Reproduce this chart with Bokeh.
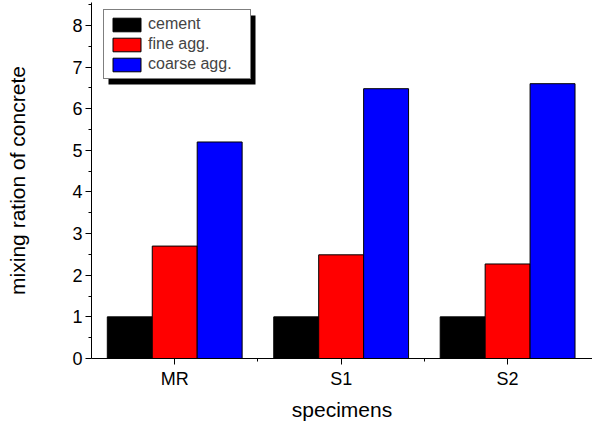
from bokeh.plotting import figure
from bokeh.models import (ColumnDataSource, FixedTicker, Range1d, Legend, LegendItem,
                          BoxAnnotation)
from bokeh.embed import file_html
from bokeh.resources import INLINE

categories = ["MR", "S1", "S2"]
cement = [1.0, 1.0, 1.0]
fine_agg = [2.7, 2.49, 2.27]
coarse_agg = [5.2, 6.48, 6.6]
series_names = ["cement", "fine agg.", "coarse agg."]
colors = ["black", "#ff0000", "#0000ff"]

FONT = "Liberation Sans"
xs = [1, 2, 3]
bw = 0.27

p = figure(width=592, height=423, output_backend="svg", toolbar_location=None,
           x_range=Range1d(0.5, 3.51), y_range=Range1d(0, 8.55),
           min_border_left=91, min_border_right=0, min_border_top=2, min_border_bottom=65)
p.outline_line_color = None
p.grid.visible = False
p.background_fill_color = "white"
p.border_fill_color = "white"

renderers = []
for i, (vals, c) in enumerate(zip([cement, fine_agg, coarse_agg], colors)):
    src = ColumnDataSource(dict(x=[x + (i - 1) * bw for x in xs], top=vals))
    r = p.vbar(x="x", top="top", width=bw, bottom=0, source=src,
               fill_color=c, line_color="black", line_width=1)
    renderers.append(r)

# axes
p.xaxis.ticker = FixedTicker(ticks=xs, minor_ticks=[1.5, 2.5])
p.xaxis.major_label_overrides = {x: c for x, c in zip(xs, categories)}
p.yaxis.ticker = FixedTicker(ticks=list(range(0, 9)), minor_ticks=[i + 0.5 for i in range(0, 9)])
for ax in (p.xaxis[0], p.yaxis[0]):
    ax.axis_line_color = "black"
    ax.axis_line_width = 1
    ax.major_tick_line_color = "black"
    ax.minor_tick_line_color = "black"
    ax.major_tick_out = 6
    ax.major_tick_in = 0
    ax.minor_tick_out = 3
    ax.minor_tick_in = 0
    ax.major_label_text_font = FONT
    ax.major_label_text_font_size = "18px"
    ax.major_label_text_color = "black"
    ax.axis_label_text_font = FONT
    ax.axis_label_text_font_size = "21px"
    ax.axis_label_text_font_style = "normal"
    ax.axis_label_text_color = "black"
p.xaxis.axis_label = "specimens"
p.yaxis.axis_label = "mixing ration of concrete"
p.xaxis.major_label_standoff = 4
p.xaxis.axis_label_standoff = 6
p.yaxis.major_label_standoff = 3
p.yaxis.axis_label_standoff = 40

# legend shadow (screen units relative to the frame's bottom-left)
shadow = BoxAnnotation(left=17, right=164, top=343, bottom=274,
                       left_units="screen", right_units="screen",
                       top_units="screen", bottom_units="screen",
                       fill_color="black", fill_alpha=1.0, line_color=None, level="overlay")
p.add_layout(shadow)

legend = Legend(items=[LegendItem(label=n, renderers=[r]) for n, r in zip(series_names, renderers)],
                location=(12, 279), orientation="vertical",
                label_text_font=FONT, label_text_font_size="16px",
                glyph_width=35, glyph_height=17, spacing=2, padding=5, margin=0,
                label_standoff=4, label_height=17, label_width=97,
                border_line_color="black", border_line_width=1,
                background_fill_color="white", background_fill_alpha=1.0)
p.add_layout(legend, "center")

open("out.html", "w").write(file_html(p, INLINE))
